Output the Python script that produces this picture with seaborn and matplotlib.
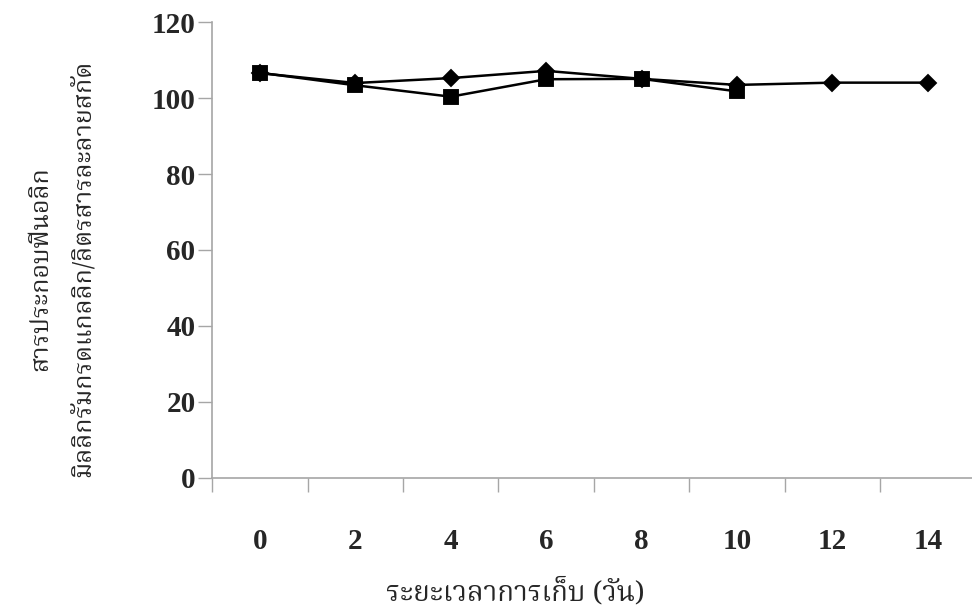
import matplotlib
matplotlib.use("Agg")
import matplotlib.pyplot as plt
import numpy as np
import pandas as pd
import seaborn as sns
from matplotlib import font_manager

# data
days = [0, 2, 4, 6, 8, 10, 12, 14]
diamond_days = [0, 2, 4, 6, 8, 10, 12, 14]
diamond_vals = [106.6, 104.0, 105.3, 107.2, 105.1, 103.5, 104.1, 104.1]
square_days = [0, 2, 4, 6, 8, 10]
square_vals = [106.7, 103.4, 100.4, 105.0, 105.1, 101.8]
y_ticks = [0, 20, 40, 60, 80, 100, 120]

x_title = "ระยะเวลาการเก็บ (วัน)"
y_title = "สารประกอบฟีนอลิก\nมิลลิกรัมกรดแกลลิก/ลิตรสารละลายสกัด"

sns.set_style("white")


def find_thai_font():
    names = {f.name for f in font_manager.fontManager.ttflist}
    for cand in ["Noto Serif Thai", "Norasi", "TH Sarabun New", "Noto Sans Thai",
                 "Noto Sans Thai Looped", "Loma", "Garuda", "Kinnari", "Tlwg Typo"]:
        if cand in names:
            return cand
    try:
        from fontTools.ttLib import TTFont
        for f in font_manager.fontManager.ttflist:
            try:
                cmap = TTFont(f.fname, fontNumber=0, lazy=True).getBestCmap()
            except Exception:
                continue
            if cmap and 0x0E01 in cmap:
                return f.name
    except Exception:
        pass
    return "DejaVu Sans"


thai_font = find_thai_font()
plt.rcParams["font.family"] = ["Liberation Serif", thai_font, "DejaVu Sans"]

df_d = pd.DataFrame({"day": diamond_days, "value": diamond_vals})
df_s = pd.DataFrame({"day": square_days, "value": square_vals})

fig = plt.figure(figsize=(9.72, 6.11), dpi=100)
ax = fig.add_axes([0.2184, 0.2182, 0.7852, 0.7453])

sns.pointplot(data=df_d, x="day", y="value", order=days, color="black",
              markers="D", markersize=8, linewidth=1.8, errorbar=None, ax=ax)
sns.pointplot(data=df_s, x="day", y="value", order=days, color="black",
              markers="s", markersize=10.5, linewidth=1.8, errorbar=None, ax=ax)

gray = "#a6a6a6"
ax.set_ylim(0, 120)
ax.set_yticks(y_ticks)
ax.set_xlim(-0.5, len(days) - 0.5)
ax.set_xticks(np.arange(len(days)))
ax.set_xticklabels([str(d) for d in days])
ax.set_xticks(np.arange(-0.5, len(days), 1), minor=True)

ax.tick_params(axis="x", which="major", bottom=True, length=0, pad=36, labelsize=21)
ax.tick_params(axis="x", which="minor", bottom=True, length=10, width=1,
               color=gray, direction="out")
ax.tick_params(axis="y", which="major", left=True, length=10, width=1, color=gray,
               direction="out", pad=2, labelsize=21)
for lab in ax.get_xticklabels() + ax.get_yticklabels():
    lab.set_fontweight("bold")

sns.despine(ax=ax, top=True, right=True)
for side in ["left", "bottom"]:
    ax.spines[side].set_color(gray)
    ax.spines[side].set_linewidth(1.2)

ax.set_xlabel(x_title, fontsize=20, fontweight="bold", family=[thai_font, "DejaVu Sans"])
ax.xaxis.set_label_coords(0.397, -0.253)
ax.xaxis.label.set_va("center")

ax.set_ylabel(y_title, fontsize=18, fontweight="bold", family=[thai_font, "DejaVu Sans"],
              linespacing=2.0)
ax.yaxis.set_label_coords(-0.196, 0.46)
ax.yaxis.label.set_va("center")
ax.yaxis.label.set_ha("center")
ax.yaxis.label.set_multialignment("center")

fig.savefig("out.png", dpi=100)
